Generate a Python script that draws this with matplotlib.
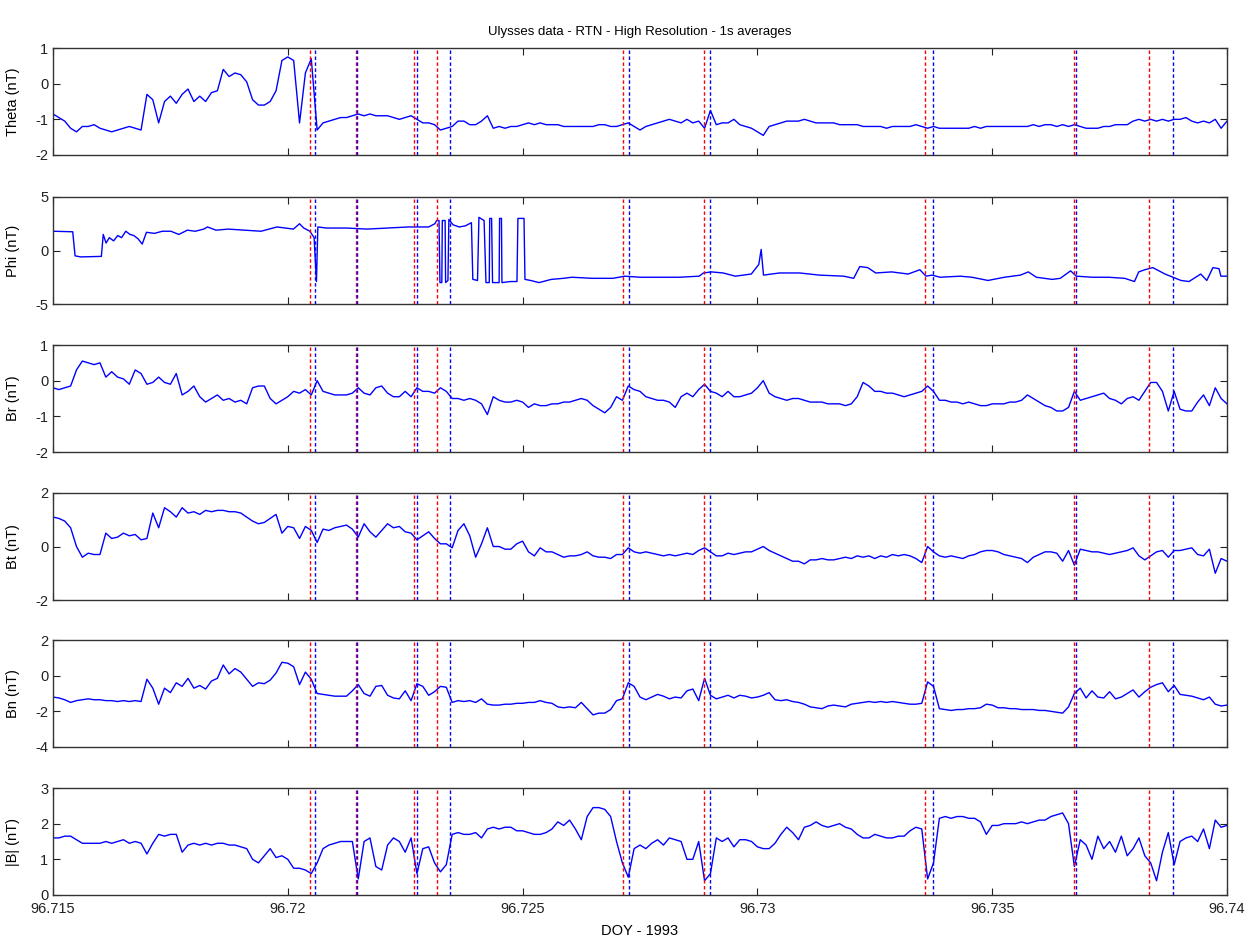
import numpy as np
import matplotlib
matplotlib.use("Agg")
import matplotlib.pyplot as plt

plt.rcParams['font.family'] = ['Liberation Sans', 'DejaVu Sans']
plt.rcParams['axes.unicode_minus'] = False

# time grid of the hand-read samples (DOY 1993), one value every 0.000125 day
doy_start = 96.715
doy_step = 0.000125

theta = [
    -0.85, -0.95, -1.05, -1.25, -1.35, -1.2, -1.2, -1.15, -1.25, -1.3,
    -1.35, -1.3, -1.25, -1.2, -1.25, -1.3, -0.3, -0.45, -1.1, -0.5,
    -0.35, -0.55, -0.3, -0.15, -0.5, -0.35, -0.5, -0.25, -0.2, 0.4,
    0.2, 0.3, 0.25, 0.05, -0.45, -0.6, -0.6, -0.5, -0.2, 0.65,
    0.75, 0.65, -1.1, 0.3, 0.7, -1.3, -1.1, -1.05, -1.0, -0.95,
    -0.95, -0.9, -0.85, -0.9, -0.85, -0.9, -0.9, -0.9, -0.95, -1.0,
    -0.95, -0.9, -1.0, -1.1, -1.1, -1.15, -1.3, -1.25, -1.2, -1.05,
    -1.05, -1.15, -1.15, -1.05, -0.9, -1.25, -1.2, -1.25, -1.2, -1.2,
    -1.15, -1.1, -1.15, -1.1, -1.15, -1.15, -1.15, -1.2, -1.2, -1.2,
    -1.2, -1.2, -1.2, -1.15, -1.15, -1.2, -1.2, -1.15, -1.1, -1.2,
    -1.3, -1.2, -1.15, -1.1, -1.05, -1.0, -1.05, -1.1, -1.0, -1.1,
    -1.05, -1.25, -0.75, -1.15, -1.1, -1.1, -1.0, -1.15, -1.2, -1.25,
    -1.35, -1.45, -1.2, -1.15, -1.1, -1.05, -1.05, -1.05, -1.0, -1.05,
    -1.1, -1.1, -1.1, -1.1, -1.15, -1.15, -1.15, -1.15, -1.2, -1.2,
    -1.2, -1.2, -1.25, -1.2, -1.2, -1.2, -1.2, -1.15, -1.2, -1.25,
    -1.2, -1.25, -1.25, -1.25, -1.25, -1.25, -1.25, -1.2, -1.25, -1.2,
    -1.2, -1.2, -1.2, -1.2, -1.2, -1.2, -1.2, -1.15, -1.2, -1.15,
    -1.15, -1.2, -1.15, -1.2, -1.15, -1.2, -1.25, -1.25, -1.25, -1.2,
    -1.2, -1.15, -1.15, -1.15, -1.05, -1.0, -1.05, -1.0, -1.05, -1.0,
    -1.05, -1.0, -1.0, -0.95, -1.05, -1.1, -1.05, -1.1, -1.0, -1.25,
    -1.05,
]

br = [
    -0.2, -0.25, -0.2, -0.15, 0.3, 0.55, 0.5, 0.45, 0.5, 0.1,
    0.25, 0.1, 0.05, -0.1, 0.3, 0.2, -0.1, -0.05, 0.1, -0.05,
    -0.1, 0.2, -0.4, -0.3, -0.15, -0.45, -0.6, -0.5, -0.4, -0.55,
    -0.5, -0.6, -0.55, -0.65, -0.2, -0.15, -0.15, -0.5, -0.65, -0.55,
    -0.45, -0.3, -0.35, -0.25, -0.4, 0.0, -0.3, -0.35, -0.4, -0.4,
    -0.4, -0.35, -0.2, -0.35, -0.4, -0.2, -0.15, -0.35, -0.45, -0.45,
    -0.3, -0.45, -0.2, -0.3, -0.3, -0.35, -0.2, -0.3, -0.5, -0.5,
    -0.55, -0.5, -0.55, -0.65, -0.95, -0.45, -0.55, -0.6, -0.6, -0.55,
    -0.6, -0.75, -0.65, -0.7, -0.7, -0.65, -0.65, -0.6, -0.6, -0.55,
    -0.5, -0.55, -0.7, -0.8, -0.9, -0.75, -0.45, -0.55, -0.15, -0.25,
    -0.3, -0.45, -0.5, -0.55, -0.55, -0.6, -0.75, -0.45, -0.35, -0.45,
    -0.25, -0.1, -0.3, -0.35, -0.45, -0.3, -0.45, -0.45, -0.4, -0.35,
    -0.2, 0.0, -0.35, -0.45, -0.5, -0.55, -0.5, -0.5, -0.55, -0.6,
    -0.6, -0.6, -0.65, -0.65, -0.65, -0.7, -0.65, -0.45, -0.05, -0.15,
    -0.3, -0.3, -0.35, -0.35, -0.4, -0.45, -0.4, -0.35, -0.3, -0.15,
    -0.3, -0.55, -0.55, -0.6, -0.6, -0.65, -0.6, -0.65, -0.7, -0.7,
    -0.65, -0.65, -0.65, -0.6, -0.6, -0.55, -0.4, -0.5, -0.6, -0.7,
    -0.75, -0.85, -0.85, -0.75, -0.3, -0.55, -0.5, -0.45, -0.4, -0.35,
    -0.5, -0.55, -0.65, -0.5, -0.45, -0.55, -0.3, -0.05, -0.05, -0.3,
    -0.85, -0.3, -0.8, -0.85, -0.85, -0.6, -0.4, -0.7, -0.2, -0.5,
    -0.65,
]

bt = [
    1.1, 1.05, 0.95, 0.7, 0.0, -0.4, -0.25, -0.3, -0.3, 0.5,
    0.3, 0.35, 0.5, 0.4, 0.45, 0.25, 0.3, 1.25, 0.7, 1.45,
    1.3, 1.1, 1.45, 1.25, 1.3, 1.2, 1.35, 1.3, 1.35, 1.35,
    1.3, 1.3, 1.25, 1.1, 0.95, 0.85, 0.9, 1.05, 1.2, 0.5,
    0.75, 0.7, 0.3, 0.75, 0.6, 0.15, 0.65, 0.6, 0.7, 0.75,
    0.8, 0.65, 0.35, 0.85, 0.55, 0.35, 0.6, 0.85, 0.7, 0.75,
    0.55, 0.5, 0.25, 0.4, 0.55, 0.3, 0.1, 0.1, -0.05, 0.6,
    0.85, 0.4, -0.4, 0.1, 0.7, 0.0, 0.0, -0.1, -0.1, 0.1,
    0.2, -0.2, -0.35, -0.05, -0.2, -0.2, -0.3, -0.4, -0.35, -0.35,
    -0.3, -0.2, -0.35, -0.4, -0.4, -0.45, -0.3, -0.3, -0.05, -0.2,
    -0.25, -0.2, -0.25, -0.3, -0.35, -0.3, -0.35, -0.3, -0.25, -0.3,
    -0.15, -0.05, -0.2, -0.35, -0.35, -0.25, -0.3, -0.25, -0.2, -0.2,
    -0.1, 0.0, -0.15, -0.25, -0.35, -0.45, -0.55, -0.55, -0.65, -0.5,
    -0.5, -0.45, -0.5, -0.5, -0.45, -0.4, -0.45, -0.35, -0.4, -0.35,
    -0.45, -0.35, -0.4, -0.3, -0.35, -0.3, -0.35, -0.45, -0.6, 0.0,
    -0.2, -0.35, -0.4, -0.35, -0.4, -0.45, -0.35, -0.3, -0.2, -0.15,
    -0.15, -0.2, -0.3, -0.35, -0.4, -0.45, -0.6, -0.4, -0.3, -0.2,
    -0.2, -0.25, -0.55, -0.15, -0.7, -0.1, -0.15, -0.2, -0.2, -0.25,
    -0.3, -0.25, -0.2, -0.15, -0.05, -0.35, -0.5, -0.35, -0.2, -0.15,
    -0.4, -0.15, -0.15, -0.1, -0.05, -0.3, -0.35, -0.1, -1.0, -0.45,
    -0.55,
]

bn = [
    -1.2, -1.25, -1.35, -1.5, -1.4, -1.35, -1.3, -1.35, -1.35, -1.4,
    -1.4, -1.45, -1.4, -1.45, -1.4, -1.45, -0.2, -0.7, -1.6, -0.7,
    -0.95, -0.4, -0.6, -0.15, -0.7, -0.55, -0.75, -0.3, -0.15, 0.6,
    0.1, 0.4, 0.2, -0.2, -0.6, -0.4, -0.45, -0.25, 0.15, 0.75,
    0.7, 0.5, -0.5, 0.2, -0.2, -1.0, -1.05, -1.1, -1.15, -1.15,
    -1.15, -0.85, -0.5, -1.0, -1.15, -0.6, -0.55, -1.1, -1.25, -1.3,
    -0.85, -1.4, -0.45, -0.6, -1.1, -0.9, -0.6, -0.65, -1.5, -1.4,
    -1.45, -1.4, -1.5, -1.3, -1.6, -1.65, -1.65, -1.6, -1.6, -1.55,
    -1.55, -1.5, -1.5, -1.4, -1.5, -1.55, -1.75, -1.8, -1.75, -1.8,
    -1.5, -1.85, -2.2, -2.1, -2.1, -1.9, -1.4, -1.3, -0.4, -0.6,
    -1.2, -1.35, -1.2, -1.05, -1.15, -1.3, -1.2, -1.25, -0.85, -0.75,
    -1.4, -0.15, -1.1, -1.3, -1.2, -1.1, -1.25, -1.1, -1.15, -1.25,
    -1.2, -1.1, -0.95, -1.35, -1.4, -1.35, -1.45, -1.5, -1.6, -1.75,
    -1.8, -1.85, -1.7, -1.65, -1.7, -1.75, -1.6, -1.55, -1.5, -1.45,
    -1.5, -1.45, -1.5, -1.45, -1.5, -1.55, -1.6, -1.6, -1.55, -0.35,
    -0.6, -1.85, -1.9, -1.95, -1.9, -1.9, -1.85, -1.85, -1.8, -1.6,
    -1.65, -1.8, -1.8, -1.85, -1.85, -1.9, -1.9, -1.9, -1.95, -1.95,
    -2.0, -2.05, -2.1, -1.75, -1.0, -0.7, -1.25, -0.85, -1.2, -1.25,
    -0.9, -1.3, -1.2, -1.0, -0.8, -1.2, -0.9, -0.65, -0.5, -0.4,
    -0.9, -0.55, -1.05, -1.1, -1.15, -1.25, -1.35, -1.2, -1.6, -1.7,
    -1.65,
]

bmag = [
    1.6, 1.6, 1.65, 1.65, 1.55, 1.45, 1.45, 1.45, 1.45, 1.5,
    1.45, 1.5, 1.55, 1.45, 1.5, 1.45, 1.15, 1.45, 1.7, 1.65,
    1.7, 1.7, 1.2, 1.4, 1.45, 1.4, 1.45, 1.4, 1.45, 1.45,
    1.4, 1.4, 1.35, 1.3, 1.0, 0.9, 1.1, 1.3, 1.05, 1.1,
    1.0, 0.75, 0.75, 0.7, 0.6, 0.9, 1.3, 1.4, 1.45, 1.5,
    1.5, 1.5, 0.45, 1.5, 1.6, 0.8, 0.7, 1.4, 1.6, 1.5,
    1.2, 1.6, 0.6, 1.3, 1.35, 0.9, 0.65, 0.85, 1.7, 1.75,
    1.7, 1.7, 1.75, 1.6, 1.85, 1.9, 1.85, 1.9, 1.9, 1.8,
    1.8, 1.75, 1.7, 1.7, 1.75, 1.85, 2.05, 1.95, 2.1, 1.85,
    1.55, 2.2, 2.45, 2.45, 2.4, 2.2, 1.5, 0.9, 0.5, 1.3,
    1.4, 1.3, 1.45, 1.55, 1.4, 1.6, 1.55, 1.5, 1.0, 1.0,
    1.5, 0.4, 0.6, 1.6, 1.5, 1.6, 1.35, 1.55, 1.55, 1.5,
    1.35, 1.3, 1.3, 1.45, 1.7, 1.9, 1.75, 1.55, 1.9, 1.95,
    2.05, 1.95, 1.9, 1.95, 2.0, 1.9, 1.85, 1.7, 1.6, 1.6,
    1.7, 1.65, 1.6, 1.6, 1.65, 1.65, 1.8, 1.9, 1.85, 0.45,
    0.9, 2.15, 2.2, 2.15, 2.2, 2.2, 2.15, 2.15, 2.05, 1.7,
    1.95, 1.95, 2.0, 2.0, 2.0, 2.05, 2.0, 2.05, 2.1, 2.1,
    2.2, 2.25, 2.3, 2.0, 0.8, 1.55, 1.4, 1.0, 1.65, 1.3,
    1.5, 1.2, 1.65, 1.1, 1.3, 1.6, 1.1, 0.9, 0.4, 1.2,
    1.75, 0.85, 1.5, 1.6, 1.65, 1.5, 1.85, 1.3, 2.1, 1.9,
    1.95,
]

# Phi flips between about +3 and -3 nT, so it is kept as (DOY, value) breakpoints
phi_doy = [
    96.71500, 96.71542, 96.71547, 96.71559, 96.71603, 96.71607, 96.71613, 96.71620,
    96.71629, 96.71638, 96.71646, 96.71655, 96.71664, 96.71672, 96.71681, 96.71690,
    96.71699, 96.71716, 96.71733, 96.71751, 96.71768, 96.71786, 96.71803, 96.71821,
    96.71829, 96.71847, 96.71873, 96.71908, 96.71943, 96.71977, 96.71995, 96.72012,
    96.72025, 96.72034, 96.72047, 96.72056, 96.72061, 96.72064, 96.72082, 96.72125,
    96.72169, 96.72213, 96.72256, 96.72300, 96.72313, 96.72317, 96.72322, 96.72324,
    96.72328, 96.72329, 96.72335, 96.72336, 96.72341, 96.72343, 96.72352, 96.72365,
    96.72378, 96.72391, 96.72394, 96.72404, 96.72407, 96.72418, 96.72422, 96.72429,
    96.72430, 96.72434, 96.72436, 96.72450, 96.72451, 96.72455, 96.72456, 96.72474,
    96.72488, 96.72490, 96.72503, 96.72505, 96.72517, 96.72535, 96.72561, 96.72587,
    96.72605, 96.72648, 96.72692, 96.72718, 96.72750, 96.72791, 96.72833, 96.72876,
    96.72885, 96.72902, 96.72927, 96.72953, 96.72987, 96.73003, 96.73008, 96.73013,
    96.73047, 96.73090, 96.73132, 96.73184, 96.73205, 96.73218, 96.73235, 96.73252,
    96.73286, 96.73321, 96.73346, 96.73359, 96.73372, 96.73389, 96.73432, 96.73457,
    96.73491, 96.73526, 96.73560, 96.73577, 96.73594, 96.73628, 96.73645, 96.73667,
    96.73679, 96.73714, 96.73748, 96.73782, 96.73803, 96.73812, 96.73825, 96.73842,
    96.73868, 96.73885, 96.73902, 96.73919, 96.73944, 96.73957, 96.73970, 96.73983,
    96.73987, 96.74000,
]
phi = [
    1.8, 1.75, -0.5, -0.6, -0.55, 1.5, 0.7, 1.2,
    0.9, 1.4, 1.2, 1.8, 1.5, 1.4, 1.1, 0.6,
    1.7, 1.6, 1.8, 1.8, 1.5, 1.9, 1.8, 2.0,
    2.2, 1.9, 2.0, 1.9, 1.8, 2.2, 2.1, 2.0,
    2.5, 2.1, 1.8, 1.2, -2.9, 2.2, 2.1, 2.1,
    2.0, 2.1, 2.2, 2.2, 2.5, 2.8, 2.8, -3.0,
    -3.0, 2.8, 2.8, -3.0, -2.8, 2.9, 2.4, 2.2,
    2.3, 2.6, -2.7, -2.8, 3.1, 2.8, -3.0, -3.0,
    3.0, 3.0, -3.0, -3.0, 3.0, 3.0, -3.0, -2.9,
    -2.9, 3.0, 3.0, -2.7, -2.8, -3.0, -2.7, -2.6,
    -2.5, -2.6, -2.6, -2.4, -2.5, -2.5, -2.5, -2.4,
    -2.1, -2.0, -2.1, -2.4, -2.2, -1.3, 0.1, -2.3,
    -2.1, -2.1, -2.3, -2.4, -2.6, -1.5, -1.6, -2.1,
    -2.0, -2.2, -1.8, -2.4, -2.3, -2.5, -2.4, -2.5,
    -2.8, -2.5, -2.3, -2.0, -2.5, -2.7, -2.6, -1.9,
    -2.4, -2.5, -2.5, -2.6, -2.9, -2.0, -1.8, -1.6,
    -2.2, -2.5, -2.8, -2.9, -2.2, -2.8, -1.6, -1.7,
    -2.4, -2.4,
]

# event markers
red_events = [96.72047, 96.72145, 96.72269, 96.72318, 96.72714,
              96.72887, 96.73357, 96.73674, 96.73834]
blue_events = [96.72058, 96.72148, 96.72276, 96.72345, 96.72726,
               96.72900, 96.73373, 96.73678, 96.73886]

panels = [
    ("Theta (nT)", theta, (-2, 1), [-2, -1, 0, 1]),
    ("Phi (nT)", phi, (-5, 5), [-5, 0, 5]),
    ("Br (nT)", br, (-2, 1), [-2, -1, 0, 1]),
    ("Bt (nT)", bt, (-2, 2), [-2, 0, 2]),
    ("Bn (nT)", bn, (-4, 2), [-4, -2, 0, 2]),
    ("|B| (nT)", bmag, (0, 3), [0, 1, 2, 3]),
]

doy = doy_start + doy_step * np.arange(len(theta))

fig = plt.figure(figsize=(12.47, 9.44), dpi=100)
tops_px = [48, 197, 345, 493, 640, 788]
h_px = 107

for k, (label, values, ylim, yticks) in enumerate(panels):
    bottom = 1 - (tops_px[k] + h_px) / 944
    ax = fig.add_axes([53 / 1247, bottom, 1174 / 1247, h_px / 944])
    x = phi_doy if label.startswith("Phi") else doy
    ax.plot(x, values, color="#0000ff", lw=1.0)
    for xe in red_events:
        ax.axvline(xe, color="red", lw=1, ls=(0, (2.5, 1.8)))
    for xe in blue_events:
        ax.axvline(xe, color="#0000ff", lw=1, ls=(0, (2.5, 1.8)))
    ax.set_xlim(96.715, 96.74)
    ax.set_ylim(*ylim)
    ax.set_yticks(yticks)
    ax.set_xticks([96.715, 96.72, 96.725, 96.73, 96.735, 96.74])
    ax.set_ylabel(label, fontsize=10.5)
    ax.tick_params(direction="in", top=True, right=True, length=5,
                   labelsize=10.5, colors="#222222")
    for sp in ax.spines.values():
        sp.set_color("#333333")
        sp.set_linewidth(1)
    if k < len(panels) - 1:
        ax.set_xticklabels([])
    else:
        ax.set_xticklabels(["96.715", "96.72", "96.725", "96.73", "96.735", "96.74"])
        ax.tick_params(axis="x", pad=5)
        ax.set_xlabel("DOY - 1993", fontsize=10.5, labelpad=6)
    if k == 0:
        ax.set_title("Ulysses data - RTN - High Resolution - 1s averages",
                     fontsize=9.5, pad=9)
    ax.yaxis.set_label_coords(-0.028, 0.5)

fig.savefig("out.png", dpi=100)
